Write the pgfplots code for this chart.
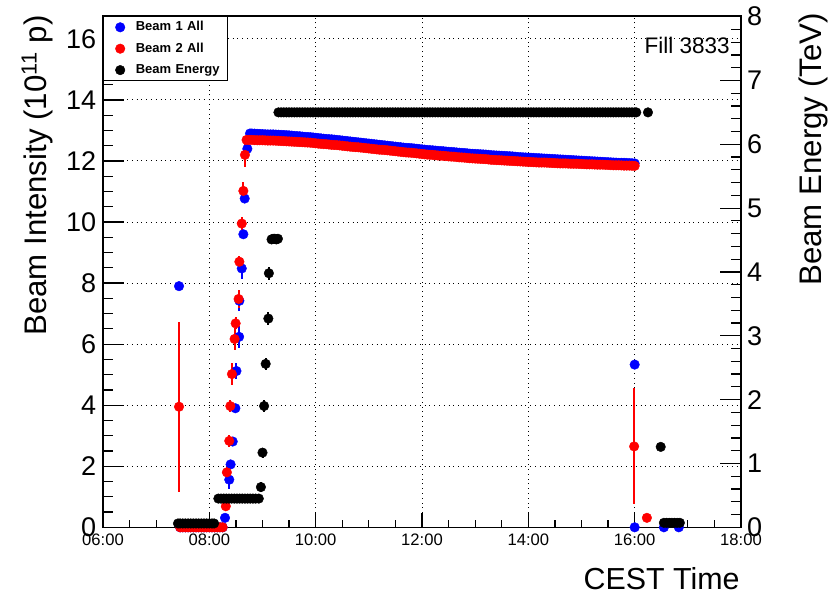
\documentclass[border=0pt]{standalone}
\usepackage{fontspec}
\setmainfont{Liberation Sans}
\usepackage{pgfplots}
\pgfplotsset{compat=1.18}
\usepackage{pgfplotstable}

\pgfplotstableread[row sep=\\]{
x y ey\\
7.43 7.90 0\\
7.45 0 0\\ 7.50 0 0\\ 7.55 0 0\\ 7.60 0 0\\ 7.65 0 0\\ 7.70 0 0\\ 7.75 0 0\\ 7.80 0 0\\ 7.85 0 0\\
7.90 0 0\\ 7.95 0 0\\ 8.00 0 0\\ 8.05 0 0\\ 8.10 0 0\\ 8.15 0 0\\ 8.20 0 0\\ 8.25 0 0\\
8.295 0.31 0\\ 8.375 1.56 0.3\\ 8.40 2.06 0\\ 8.44 2.81 0\\ 8.49 3.90 0\\ 8.51 5.12 0.25\\
8.56 6.24 0.35\\ 8.565 7.42 0.35\\ 8.61 8.48 0.35\\ 8.64 9.60 0\\ 8.665 10.77 0\\ 8.715 12.40 0\\ 8.765 12.90 0\\
8.80 12.900 0\\ 8.85 12.895 0\\ 8.90 12.890 0\\ 8.95 12.885 0\\ 9.00 12.880 0\\ 9.05 12.875 0\\ 9.10 12.870 0\\ 9.15 12.870 0\\
9.20 12.870 0\\ 9.25 12.865 0\\ 9.30 12.860 0\\ 9.35 12.855 0\\ 9.40 12.850 0\\ 9.45 12.845 0\\ 9.50 12.840 0\\ 9.55 12.830 0\\
9.60 12.820 0\\ 9.65 12.815 0\\ 9.70 12.810 0\\ 9.75 12.800 0\\ 9.80 12.790 0\\ 9.85 12.785 0\\ 9.90 12.780 0\\ 9.95 12.770 0\\
10.00 12.760 0\\ 10.05 12.750 0\\ 10.10 12.740 0\\ 10.15 12.730 0\\ 10.20 12.720 0\\ 10.25 12.715 0\\ 10.30 12.710 0\\ 10.35 12.700 0\\
10.40 12.690 0\\ 10.45 12.680 0\\ 10.50 12.670 0\\ 10.55 12.660 0\\ 10.60 12.650 0\\ 10.65 12.640 0\\ 10.70 12.630 0\\ 10.75 12.620 0\\
10.80 12.610 0\\ 10.85 12.600 0\\ 10.90 12.590 0\\ 10.95 12.580 0\\ 11.00 12.570 0\\ 11.05 12.560 0\\ 11.10 12.550 0\\ 11.15 12.540 0\\
11.20 12.530 0\\ 11.25 12.520 0\\ 11.30 12.510 0\\ 11.35 12.500 0\\ 11.40 12.490 0\\ 11.45 12.480 0\\ 11.50 12.470 0\\ 11.55 12.460 0\\
11.60 12.450 0\\ 11.65 12.440 0\\ 11.70 12.430 0\\ 11.75 12.425 0\\ 11.80 12.420 0\\ 11.85 12.410 0\\ 11.90 12.400 0\\ 11.95 12.390 0\\
12.00 12.380 0\\ 12.05 12.370 0\\ 12.10 12.360 0\\ 12.15 12.355 0\\ 12.20 12.350 0\\ 12.25 12.340 0\\ 12.30 12.330 0\\ 12.35 12.325 0\\
12.40 12.320 0\\ 12.45 12.310 0\\ 12.50 12.300 0\\ 12.55 12.295 0\\ 12.60 12.290 0\\ 12.65 12.280 0\\ 12.70 12.270 0\\ 12.75 12.265 0\\
12.80 12.260 0\\ 12.85 12.250 0\\ 12.90 12.240 0\\ 12.95 12.235 0\\ 13.00 12.230 0\\ 13.05 12.225 0\\ 13.10 12.220 0\\ 13.15 12.215 0\\
13.20 12.210 0\\ 13.25 12.200 0\\ 13.30 12.190 0\\ 13.35 12.185 0\\ 13.40 12.180 0\\ 13.45 12.175 0\\ 13.50 12.170 0\\ 13.55 12.165 0\\
13.60 12.160 0\\ 13.65 12.155 0\\ 13.70 12.150 0\\ 13.75 12.140 0\\ 13.80 12.130 0\\ 13.85 12.125 0\\ 13.90 12.120 0\\ 13.95 12.115 0\\
14.00 12.110 0\\ 14.05 12.105 0\\ 14.10 12.100 0\\ 14.15 12.095 0\\ 14.20 12.090 0\\ 14.25 12.085 0\\ 14.30 12.080 0\\ 14.35 12.075 0\\
14.40 12.070 0\\ 14.45 12.065 0\\ 14.50 12.060 0\\ 14.55 12.055 0\\ 14.60 12.050 0\\ 14.65 12.045 0\\ 14.70 12.040 0\\ 14.75 12.035 0\\
14.80 12.030 0\\ 14.85 12.025 0\\ 14.90 12.020 0\\ 14.95 12.015 0\\ 15.00 12.010 0\\ 15.05 12.005 0\\ 15.10 12.000 0\\ 15.15 11.995 0\\
15.20 11.990 0\\ 15.25 11.985 0\\ 15.30 11.980 0\\ 15.35 11.975 0\\ 15.40 11.970 0\\ 15.45 11.965 0\\ 15.50 11.960 0\\ 15.55 11.955 0\\
15.60 11.950 0\\ 15.65 11.945 0\\ 15.70 11.940 0\\ 15.75 11.940 0\\ 15.80 11.940 0\\ 15.85 11.935 0\\ 15.90 11.930 0\\ 15.95 11.925 0\\
16.00 11.920 0\\
16.00 5.33 0\\ 16.00 0 0\\ 16.55 0 0\\ 16.83 0 0\\
}\beamone

\pgfplotstableread[row sep=\\]{
x y ey\\
7.43 3.95 2.78\\
7.45 0 0\\ 7.50 0 0\\ 7.55 0 0\\ 7.60 0 0\\ 7.65 0 0\\ 7.70 0 0\\ 7.75 0 0\\ 7.80 0 0\\ 7.85 0 0\\
7.90 0 0\\ 7.95 0 0\\ 8.00 0 0\\ 8.05 0 0\\ 8.10 0 0\\ 8.15 0 0\\ 8.20 0 0\\ 8.25 0 0\\
8.31 0.69 0\\ 8.33 1.80 0.2\\ 8.375 2.83 0.2\\ 8.395 3.97 0.2\\ 8.425 5.02 0.35\\ 8.475 6.17 0.35\\
8.495 6.68 0.2\\ 8.55 7.48 0.3\\ 8.565 8.70 0.2\\ 8.61 9.95 0.2\\ 8.64 11.02 0.3\\ 8.67 12.20 0.4\\
8.70 12.690 0\\ 8.75 12.690 0\\ 8.80 12.690 0\\ 8.85 12.685 0\\ 8.90 12.680 0\\ 8.95 12.680 0\\ 9.00 12.680 0\\ 9.05 12.675 0\\
9.10 12.670 0\\ 9.15 12.670 0\\ 9.20 12.670 0\\ 9.25 12.665 0\\ 9.30 12.660 0\\ 9.35 12.655 0\\ 9.40 12.650 0\\ 9.45 12.645 0\\
9.50 12.640 0\\ 9.55 12.635 0\\ 9.60 12.630 0\\ 9.65 12.625 0\\ 9.70 12.620 0\\ 9.75 12.615 0\\ 9.80 12.610 0\\ 9.85 12.605 0\\
9.90 12.600 0\\ 9.95 12.590 0\\ 10.00 12.580 0\\ 10.05 12.570 0\\ 10.10 12.560 0\\ 10.15 12.555 0\\ 10.20 12.550 0\\ 10.25 12.540 0\\
10.30 12.530 0\\ 10.35 12.525 0\\ 10.40 12.520 0\\ 10.45 12.510 0\\ 10.50 12.500 0\\ 10.55 12.490 0\\ 10.60 12.480 0\\ 10.65 12.470 0\\
10.70 12.460 0\\ 10.75 12.455 0\\ 10.80 12.450 0\\ 10.85 12.440 0\\ 10.90 12.430 0\\ 10.95 12.420 0\\ 11.00 12.410 0\\ 11.05 12.400 0\\
11.10 12.390 0\\ 11.15 12.380 0\\ 11.20 12.370 0\\ 11.25 12.365 0\\ 11.30 12.360 0\\ 11.35 12.350 0\\ 11.40 12.340 0\\ 11.45 12.330 0\\
11.50 12.320 0\\ 11.55 12.310 0\\ 11.60 12.300 0\\ 11.65 12.290 0\\ 11.70 12.280 0\\ 11.75 12.275 0\\ 11.80 12.270 0\\ 11.85 12.260 0\\
11.90 12.250 0\\ 11.95 12.240 0\\ 12.00 12.230 0\\ 12.05 12.220 0\\ 12.10 12.210 0\\ 12.15 12.205 0\\ 12.20 12.200 0\\ 12.25 12.190 0\\
12.30 12.180 0\\ 12.35 12.175 0\\ 12.40 12.170 0\\ 12.45 12.160 0\\ 12.50 12.150 0\\ 12.55 12.145 0\\ 12.60 12.140 0\\ 12.65 12.130 0\\
12.70 12.120 0\\ 12.75 12.115 0\\ 12.80 12.110 0\\ 12.85 12.100 0\\ 12.90 12.090 0\\ 12.95 12.085 0\\ 13.00 12.080 0\\ 13.05 12.075 0\\
13.10 12.070 0\\ 13.15 12.065 0\\ 13.20 12.060 0\\ 13.25 12.050 0\\ 13.30 12.040 0\\ 13.35 12.035 0\\ 13.40 12.030 0\\ 13.45 12.025 0\\
13.50 12.020 0\\ 13.55 12.015 0\\ 13.60 12.010 0\\ 13.65 12.005 0\\ 13.70 12.000 0\\ 13.75 11.995 0\\ 13.80 11.990 0\\ 13.85 11.985 0\\
13.90 11.980 0\\ 13.95 11.975 0\\ 14.00 11.970 0\\ 14.05 11.965 0\\ 14.10 11.960 0\\ 14.15 11.955 0\\ 14.20 11.950 0\\ 14.25 11.950 0\\
14.30 11.950 0\\ 14.35 11.945 0\\ 14.40 11.940 0\\ 14.45 11.935 0\\ 14.50 11.930 0\\ 14.55 11.925 0\\ 14.60 11.920 0\\ 14.65 11.920 0\\
14.70 11.920 0\\ 14.75 11.915 0\\ 14.80 11.910 0\\ 14.85 11.910 0\\ 14.90 11.910 0\\ 14.95 11.905 0\\ 15.00 11.900 0\\ 15.05 11.895 0\\
15.10 11.890 0\\ 15.15 11.890 0\\ 15.20 11.890 0\\ 15.25 11.885 0\\ 15.30 11.880 0\\ 15.35 11.880 0\\ 15.40 11.880 0\\ 15.45 11.875 0\\
15.50 11.870 0\\ 15.55 11.865 0\\ 15.60 11.860 0\\ 15.65 11.860 0\\ 15.70 11.860 0\\ 15.75 11.855 0\\ 15.80 11.850 0\\ 15.85 11.850 0\\
15.90 11.850 0\\ 15.95 11.845 0\\ 16.00 11.840 0\\
15.99 2.65 1.9\\ 16.23 0.31 0\\
}\beamtwo

\pgfplotstableread[row sep=\\]{
x y ey\\
7.41 0.06 0\\ 7.45 0.06 0\\ 7.50 0.06 0\\ 7.55 0.06 0\\ 7.60 0.06 0\\ 7.65 0.06 0\\ 7.70 0.06 0\\ 7.75 0.06 0\\
7.80 0.06 0\\ 7.85 0.06 0\\ 7.90 0.06 0\\ 7.95 0.06 0\\ 8.00 0.06 0\\ 8.05 0.06 0\\ 8.09 0.06 0\\
8.17 0.45 0\\ 8.22 0.45 0\\ 8.27 0.45 0\\ 8.32 0.45 0\\ 8.37 0.45 0\\ 8.42 0.45 0\\ 8.47 0.45 0\\ 8.52 0.45 0\\
8.57 0.45 0\\ 8.62 0.45 0\\ 8.67 0.45 0\\ 8.72 0.45 0\\ 8.77 0.45 0\\ 8.82 0.45 0\\ 8.87 0.45 0\\ 8.93 0.45 0\\
8.97 0.63 0.08\\ 9.00 1.17 0.08\\ 9.03 1.90 0.1\\ 9.06 2.56 0.1\\ 9.11 3.27 0.1\\ 9.12 3.98 0.1\\
9.17 4.51 0\\ 9.20 4.52 0\\ 9.23 4.52 0\\ 9.26 4.51 0\\ 9.29 4.52 0\\
9.30 6.5 0\\ 9.35 6.5 0\\ 9.40 6.5 0\\ 9.45 6.5 0\\ 9.50 6.5 0\\ 9.55 6.5 0\\ 9.60 6.5 0\\ 9.65 6.5 0\\
9.70 6.5 0\\ 9.75 6.5 0\\ 9.80 6.5 0\\ 9.85 6.5 0\\ 9.90 6.5 0\\ 9.95 6.5 0\\ 10.00 6.5 0\\ 10.05 6.5 0\\
10.10 6.5 0\\ 10.15 6.5 0\\ 10.20 6.5 0\\ 10.25 6.5 0\\ 10.30 6.5 0\\ 10.35 6.5 0\\ 10.40 6.5 0\\ 10.45 6.5 0\\
10.50 6.5 0\\ 10.55 6.5 0\\ 10.60 6.5 0\\ 10.65 6.5 0\\ 10.70 6.5 0\\ 10.75 6.5 0\\ 10.80 6.5 0\\ 10.85 6.5 0\\
10.90 6.5 0\\ 10.95 6.5 0\\ 11.00 6.5 0\\ 11.05 6.5 0\\ 11.10 6.5 0\\ 11.15 6.5 0\\ 11.20 6.5 0\\ 11.25 6.5 0\\
11.30 6.5 0\\ 11.35 6.5 0\\ 11.40 6.5 0\\ 11.45 6.5 0\\ 11.50 6.5 0\\ 11.55 6.5 0\\ 11.60 6.5 0\\ 11.65 6.5 0\\
11.70 6.5 0\\ 11.75 6.5 0\\ 11.80 6.5 0\\ 11.85 6.5 0\\ 11.90 6.5 0\\ 11.95 6.5 0\\ 12.00 6.5 0\\ 12.05 6.5 0\\
12.10 6.5 0\\ 12.15 6.5 0\\ 12.20 6.5 0\\ 12.25 6.5 0\\ 12.30 6.5 0\\ 12.35 6.5 0\\ 12.40 6.5 0\\ 12.45 6.5 0\\
12.50 6.5 0\\ 12.55 6.5 0\\ 12.60 6.5 0\\ 12.65 6.5 0\\ 12.70 6.5 0\\ 12.75 6.5 0\\ 12.80 6.5 0\\ 12.85 6.5 0\\
12.90 6.5 0\\ 12.95 6.5 0\\ 13.00 6.5 0\\ 13.05 6.5 0\\ 13.10 6.5 0\\ 13.15 6.5 0\\ 13.20 6.5 0\\ 13.25 6.5 0\\
13.30 6.5 0\\ 13.35 6.5 0\\ 13.40 6.5 0\\ 13.45 6.5 0\\ 13.50 6.5 0\\ 13.55 6.5 0\\ 13.60 6.5 0\\ 13.65 6.5 0\\
13.70 6.5 0\\ 13.75 6.5 0\\ 13.80 6.5 0\\ 13.85 6.5 0\\ 13.90 6.5 0\\ 13.95 6.5 0\\ 14.00 6.5 0\\ 14.05 6.5 0\\
14.10 6.5 0\\ 14.15 6.5 0\\ 14.20 6.5 0\\ 14.25 6.5 0\\ 14.30 6.5 0\\ 14.35 6.5 0\\ 14.40 6.5 0\\ 14.45 6.5 0\\
14.50 6.5 0\\ 14.55 6.5 0\\ 14.60 6.5 0\\ 14.65 6.5 0\\ 14.70 6.5 0\\ 14.75 6.5 0\\ 14.80 6.5 0\\ 14.85 6.5 0\\
14.90 6.5 0\\ 14.95 6.5 0\\ 15.00 6.5 0\\ 15.05 6.5 0\\ 15.10 6.5 0\\ 15.15 6.5 0\\ 15.20 6.5 0\\ 15.25 6.5 0\\
15.30 6.5 0\\ 15.35 6.5 0\\ 15.40 6.5 0\\ 15.45 6.5 0\\ 15.50 6.5 0\\ 15.55 6.5 0\\ 15.60 6.5 0\\ 15.65 6.5 0\\
15.70 6.5 0\\ 15.75 6.5 0\\ 15.80 6.5 0\\ 15.85 6.5 0\\ 15.90 6.5 0\\ 15.95 6.5 0\\ 16.00 6.5 0\\ 16.03 6.5 0\\
16.25 6.5 0\\
16.49 1.26 0\\
16.55 0.07 0\\ 16.60 0.07 0\\ 16.65 0.07 0\\ 16.70 0.07 0\\ 16.75 0.07 0\\ 16.80 0.07 0\\ 16.85 0.07 0\\
}\beamenergy

\pgfplotsset{
  common/.style={
    at={(0,0)}, anchor=south west, scale only axis,
    width=319pt, height=255.65pt,
    xmin=6, xmax=18,
    axis line style={line width=0.6pt, black},
    tick style={line width=0.6pt, black},
    tick align=inside,
    clip=false,
  },
  pts/.style={color=#1, only marks, mark=*, mark size=2.4pt,
    mark options={fill=#1, draw=#1, line width=0.2pt},
    error bars/.cd, y dir=both, y explicit, error mark=none,
    error bar style={line width=1pt, #1}},
}

\begin{document}
\begin{tikzpicture}
\path[use as bounding box] (-51.5pt,-33.35pt) rectangle (365.5pt,263.65pt);

% x tick marks only
\begin{axis}[common,
  ymin=0, ymax=16.75,
  hide y axis,
  xtick={6,8,...,18}, xticklabels={},
  minor x tick num=3,
  xtick pos=bottom,
  major tick length=7pt, minor tick length=3.5pt,
]
\end{axis}

% left axis
\begin{axis}[common,
  ymin=0, ymax=16.75,
  xtick={6,8,...,18},
  xticklabels={06:00,08:00,10:00,12:00,14:00,16:00,18:00},
  minor x tick num=3,
  xtick style={draw=none},
  ytick={0,2,...,16},
  minor y tick num=3,
  ytick pos=left,
  major tick length=10.5pt, minor tick length=5.25pt,
  grid=major,
  major grid style={dotted, line width=0.5pt, black},
  /pgf/number format/assume math mode=true,
  yticklabel style={anchor=east, inner sep=0pt, xshift=-3.2pt, font=\fontsize{13.5}{14}\selectfont},
  xticklabel style={anchor=north, inner sep=0pt, yshift=-3.35pt, font=\fontsize{8.3}{9}\selectfont},
  legend style={at={(rel axis cs:0,1)}, anchor=north west, draw=black, line width=0.6pt, fill=white,
    font=\bfseries\fontsize{6.5}{7}\selectfont,
    inner xsep=0pt, inner ysep=2.1pt, row sep=4.2pt,
    nodes={inner sep=0pt, text width=46pt, text height=5pt, text depth=1.5pt, anchor=west}},
  legend cell align=left,
  legend image code/.code={\path (0pt,0pt) (15.5pt,0pt); \draw[#1] plot coordinates {(8pt,0pt)};},
]
\addplot[pts=blue] table[x=x, y=y, y error=ey] {\beamone};
\addlegendentry{Beam 1 All}
\addplot[pts=red] table[x=x, y=y, y error=ey] {\beamtwo};
\addlegendentry{Beam 2 All}
\addlegendimage{black, only marks, mark=*, mark size=2.4pt, mark options={fill=black, draw=black, line width=0.2pt}}
\addlegendentry{Beam Energy}

\node[rotate=90, anchor=base east, inner sep=0pt, font=\fontsize{15.6}{16}\selectfont]
  at ([xshift=-28pt, yshift=0.5pt]rel axis cs:0,1) {Beam Intensity (10\textsuperscript{11} p)};
\node[anchor=base east, inner sep=0pt, font=\fontsize{15.2}{16}\selectfont]
  at ([xshift=-0.5pt, yshift=-31pt]rel axis cs:1,0) {CEST Time};
\node[anchor=base east, inner sep=0pt, font=\fontsize{11.25}{12}\selectfont]
  at ([xshift=-5.5pt, yshift=-18.65pt]rel axis cs:1,1) {Fill 3833};
\end{axis}

% right axis
\begin{axis}[common,
  ymin=0, ymax=8.01,
  axis x line=none,
  axis y line*=right,
  ytick={0,1,...,8},
  minor y tick num=4,
  major tick length=10.5pt, minor tick length=5.25pt,
  /pgf/number format/assume math mode=true,
  yticklabel style={anchor=west, inner sep=0pt, xshift=2.9pt, font=\fontsize{13.5}{14}\selectfont},
]
\addplot[pts=black] table[x=x, y=y, y error=ey] {\beamenergy};
\node[rotate=90, anchor=base east, inner sep=0pt, font=\fontsize{15.6}{16}\selectfont]
  at ([xshift=40pt, yshift=1.5pt]rel axis cs:1,1) {Beam Energy (TeV)};
\end{axis}
\end{tikzpicture}
\end{document}
